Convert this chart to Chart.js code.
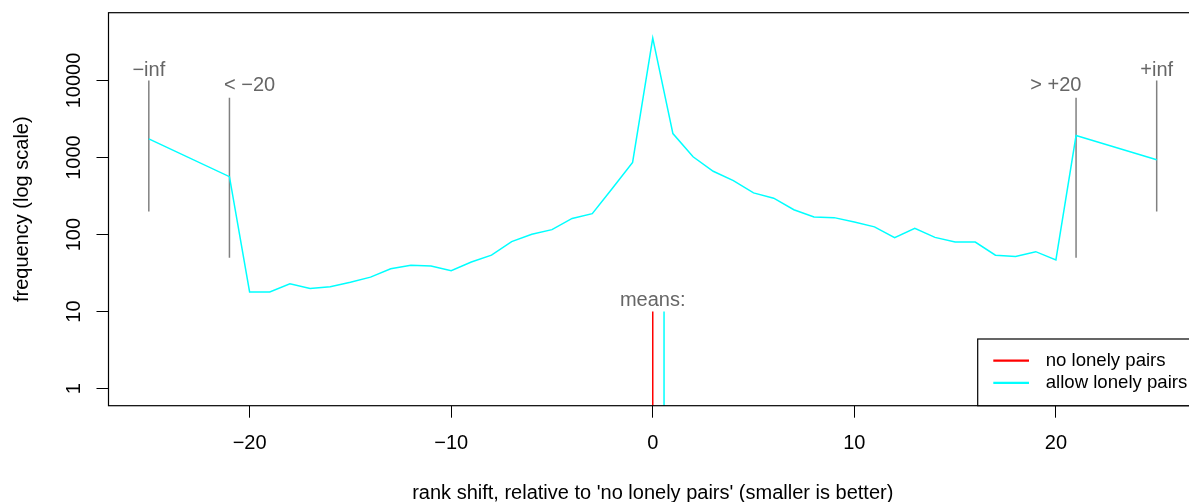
<!DOCTYPE html>
<html>
<head>
<meta charset="utf-8">
<script src="https://cdn.jsdelivr.net/npm/chart.js@4.4.1/dist/chart.umd.min.js"></script>
<style>
  html, body { margin: 0; padding: 0; background: #fff; overflow: hidden; }
  #wrap { width: 1200px; height: 502px; }
</style>
</head>
<body>
<div id="wrap"><canvas id="chart" width="1200" height="502"></canvas></div>
<script>
"use strict";

/* ===== DADOS ===== */
const SHIFT = [-25, -21, -20, -19, -18, -17, -16, -15, -14, -13, -12, -11, -10, -9, -8, -7, -6, -5, -4, -3, -2, -1,
  0, 1, 2, 3, 4, 5, 6, 7, 8, 9, 10, 11, 12, 13, 14, 15, 16, 17, 18, 19, 20, 21, 25];
const FREQ = [1750, 565, 18, 18, 23, 20, 21, 24, 28, 36, 40, 39, 34, 44, 54, 81, 101, 116, 162, 187, 400, 867,
  35600, 2050, 1024, 664, 502, 348, 297, 210, 169, 166, 146, 126, 91, 121, 92, 80, 80, 54, 52, 60, 47, 1934, 937];

// marcadores cinza (-inf, < -20, > +20, +inf)
const MARK_X = [-25, -21, 21, 25];
const MARK_TOP = [10000, 6000, 6000, 10000];
const MARK_BOTTOM = [200, 50, 50, 200];

// rótulos de texto cinza
const LABEL_TEXT = ["\u2212inf", "< \u221220", "> +20", "+inf", "means:"];
const LABEL_X = [-25, -20, 20, 25, 0];
const LABEL_Y = [11600, 7300, 7300, 11600, 11.7];

// médias
const MEAN_X = [0, 0.56];
const MEAN_COLORS = ["#ff0000", "#00ffff"];
const MEAN_TOP = 10;
const MEAN_BOTTOM = 0.1;

const LEGEND_LABELS = ["no lonely pairs", "allow lonely pairs"];
const LEGEND_COLORS = ["#ff0000", "#00ffff"];

const X_TICKS = [-20, -10, 0, 10, 20];
const Y_TICKS = [1, 10, 100, 1000, 10000];
const Y_TICK_LABELS = ["1", "10", "100", "1000", "10000"];
const X_MIN = -27, X_MAX = 27;
const Y_MIN = Math.pow(10, -0.19), Y_MAX = Math.pow(10, 4.881);

const X_TITLE = "rank shift, relative to 'no lonely pairs' (smaller is better)";
const Y_TITLE = "frequency (log scale)";

const FONT = "'Liberation Sans', Arial, Helvetica, sans-serif";
Chart.defaults.font.family = FONT;

const fmt = v => String(v).replace("-", "\u2212");

/* ===== DATASETS ===== */
const datasets = [];

datasets.push({
    label: "allow lonely pairs",
    data: SHIFT.map((x, i) => ({ x: x, y: FREQ[i] })),
    borderColor: "#00ffff",
    borderWidth: 1.5,
    pointRadius: 0,
    tension: 0
});

MARK_X.forEach((x, i) => {
    datasets.push({
        data: [{ x: x, y: MARK_BOTTOM[i] }, { x: x, y: MARK_TOP[i] }],
        borderColor: "#808080",
        borderWidth: 1.5,
        pointRadius: 0
    });
});

MEAN_X.forEach((x, i) => {
    datasets.push({
        data: [{ x: x, y: MEAN_BOTTOM }, { x: x, y: MEAN_TOP }],
        borderColor: MEAN_COLORS[i],
        borderWidth: 1.5,
        pointRadius: 0
    });
});

/* ===== PLUGIN: moldura, rótulos, legenda ===== */
const extras = {
    id: "extras",
    afterDatasetsDraw(chart) {
        const { ctx, chartArea: a, scales } = chart;
        const xs = scales.x, ys = scales.y;
        ctx.save();

        // moldura
        ctx.strokeStyle = "#000";
        ctx.lineWidth = 1.2;
        ctx.strokeRect(a.left, a.top, a.right - a.left, a.bottom - a.top);

        // rótulos do eixo y (girados)
        ctx.fillStyle = "#000";
        ctx.font = "20px " + FONT;
        ctx.textAlign = "center";
        ctx.textBaseline = "alphabetic";
        Y_TICKS.forEach((v, i) => {
            ctx.save();
            ctx.translate(a.left - 28.5, ys.getPixelForValue(v));
            ctx.rotate(-Math.PI / 2);
            ctx.fillText(Y_TICK_LABELS[i], 0, 0);
            ctx.restore();
        });

        // textos cinza
        ctx.fillStyle = "#666666";
        LABEL_TEXT.forEach((t, i) => {
            ctx.fillText(t, xs.getPixelForValue(LABEL_X[i]), ys.getPixelForValue(LABEL_Y[i]));
        });

        // legenda
        const w = 219.3, h = 66.7;
        const lx = a.right - w, ly = a.bottom - h;
        ctx.fillStyle = "#fff";
        ctx.fillRect(lx, ly, w, h);
        ctx.strokeStyle = "#000";
        ctx.lineWidth = 1.2;
        ctx.strokeRect(lx, ly, w, h);
        ctx.font = "18.6px " + FONT;
        ctx.textAlign = "left";
        ctx.textBaseline = "middle";
        LEGEND_LABELS.forEach((t, i) => {
            const y = ly + 21.7 + i * 22.2;
            ctx.strokeStyle = LEGEND_COLORS[i];
            ctx.lineWidth = 2.2;
            ctx.beginPath();
            ctx.moveTo(lx + 15.6, y);
            ctx.lineTo(lx + 51.3, y);
            ctx.stroke();
            ctx.fillStyle = "#000";
            ctx.fillText(t, lx + 68, y);
        });

        ctx.restore();
    }
};

/* ===== CHART ===== */
new Chart(document.getElementById("chart"), {
    type: "line",
    data: { datasets: datasets },
    options: {
        responsive: false,
        animation: false,
        layout: { padding: { top: 12.7, right: 3, bottom: 0, left: 0 } },
        plugins: { legend: { display: false }, tooltip: { enabled: false } },
        scales: {
            x: {
                type: "linear",
                min: X_MIN,
                max: X_MAX,
                afterBuildTicks: s => { s.ticks = X_TICKS.map(v => ({ value: v })); },
                afterFit: s => { s.height = 96.3; },
                grid: { drawOnChartArea: false, drawTicks: true, tickLength: 12, color: "#000", lineWidth: 1 },
                border: { display: false },
                ticks: { font: { size: 20 }, color: "#000", padding: 14, maxRotation: 0, autoSkip: false, callback: v => fmt(v) },
                title: { display: true, text: X_TITLE, font: { size: 20 }, color: "#000", padding: { top: 0, bottom: -3.6 } }
            },
            y: {
                type: "logarithmic",
                min: Y_MIN,
                max: Y_MAX,
                afterBuildTicks: s => { s.ticks = Y_TICKS.map(v => ({ value: v })); },
                afterFit: s => { s.width = 108.5; },
                grid: { drawOnChartArea: false, drawTicks: true, tickLength: 12, color: "#000", lineWidth: 1 },
                border: { display: false },
                ticks: { display: false },
                title: { display: true, text: Y_TITLE, font: { size: 20 }, color: "#000", padding: { top: 10.3, bottom: 0 } }
            }
        }
    },
    plugins: [extras]
});
</script>
</body>
</html>
